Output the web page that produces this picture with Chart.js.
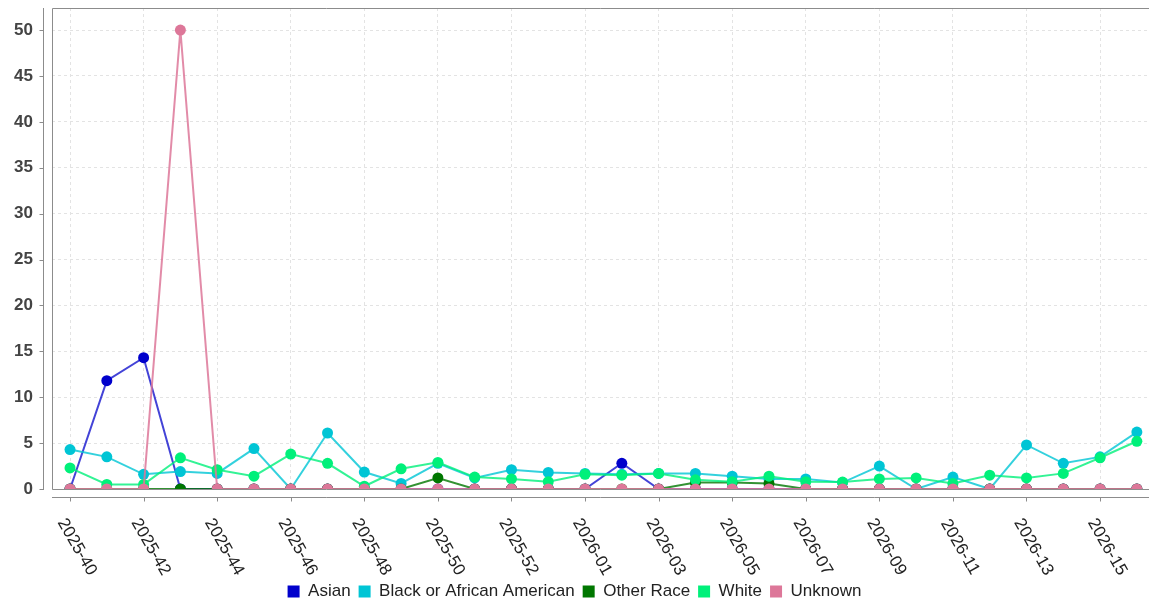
<!DOCTYPE html>
<html>
<head>
<meta charset="utf-8">
<title>Cases by race</title>
<script src="https://cdn.jsdelivr.net/npm/chart.js@4.4.1/dist/chart.umd.min.js"></script>
<style>
  html, body { margin: 0; padding: 0; background: #fff; }
</style>
</head>
<body>
<canvas id="raceChart" width="1149" height="602"></canvas>
<script>
// week labels, 2025-40 .. 2026-16
const weeks = [
  '2025-40', '2025-41', '2025-42', '2025-43', '2025-44', '2025-45', '2025-46', '2025-47',
  '2025-48', '2025-49', '2025-50', '2025-51', '2025-52', '2025-53',
  '2026-01', '2026-02', '2026-03', '2026-04', '2026-05', '2026-06', '2026-07', '2026-08',
  '2026-09', '2026-10', '2026-11', '2026-12', '2026-13', '2026-14', '2026-15', '2026-16'
];

const asian = [0, 11.8, 14.3, 0, 0, 0, 0, 0, 0, 0, 0, 0, 0, 0,
  0, 2.8, 0, 0, 0, 0, 0, 0, 0, 0, 0, 0, 0, 0, 0, 0];
const black = [4.3, 3.5, 1.6, 1.9, 1.7, 4.4, 0, 6.1, 1.85, 0.6, 2.8, 1.2, 2.1, 1.8,
  1.7, 1.6, 1.7, 1.7, 1.4, 1.1, 1.1, 0.7, 2.5, 0, 1.3, 0, 4.8, 2.8, 3.5, 6.2];
const otherRace = [0, 0, 0, 0, 0, 0, 0, 0, 0, 0, 1.2, 0, 0, 0,
  0, 0, 0, 0.7, 0.7, 0.6, 0, 0, 0, 0, 0, 0, 0, 0, 0, 0];
const white = [2.3, 0.5, 0.5, 3.4, 2.1, 1.4, 3.8, 2.8, 0.3, 2.2, 2.9, 1.3, 1.1, 0.8,
  1.6, 1.5, 1.7, 1.0, 0.8, 1.4, 0.8, 0.75, 1.1, 1.2, 0.6, 1.5, 1.2, 1.7, 3.4, 5.2];
const unknown = [0, 0, 0, 50, 0, 0, 0, 0, 0, 0, 0, 0, 0, 0,
  0, 0, 0, 0, 0, 0, 0, 0, 0, 0, 0, 0, 0, 0, 0, 0];

const yTicks = [0, 5, 10, 15, 20, 25, 30, 35, 40, 45, 50];
const xTickIdx = weeks.map((w, i) => i).filter(i => i % 2 === 0);

const FONT = "'Liberation Sans', Arial, Helvetica, sans-serif";

function pts(arr) {
  return arr.map((v, i) => ({ x: i, y: v }));
}

function series(label, arr, point, line, order) {
  return {
    label: label,
    data: pts(arr),
    borderColor: line,
    backgroundColor: point,
    pointBackgroundColor: point,
    pointBorderWidth: 0,
    pointRadius: 5.5,
    pointHoverRadius: 6.5,
    borderWidth: 2,
    fill: false,
    tension: 0,
    order: order
  };
}

// frame, offset axes and rotated week labels (JFreeChart look)
const axisFrame = {
  id: 'axisFrame',
  beforeDatasetsDraw(chart) {
    const { ctx, chartArea: a } = chart;
    ctx.save();
    ctx.strokeStyle = '#8c8c8c';
    ctx.lineWidth = 1;
    ctx.beginPath();
    ctx.moveTo(a.right, a.top + 0.5);
    ctx.lineTo(a.left + 0.5, a.top + 0.5);
    ctx.lineTo(a.left + 0.5, a.bottom + 0.5);
    ctx.lineTo(a.right, a.bottom + 0.5);
    ctx.stroke();
    ctx.restore();
  },
  afterDraw(chart) {
    const { ctx, chartArea: a, scales: { x, y } } = chart;
    ctx.save();
    ctx.strokeStyle = '#8c8c8c';
    ctx.lineWidth = 1;
    // y axis
    ctx.beginPath();
    ctx.moveTo(a.left - 8.5, a.top);
    ctx.lineTo(a.left - 8.5, a.bottom + 1);
    yTicks.forEach(v => {
      const py = Math.round(y.getPixelForValue(v)) + 0.5;
      ctx.moveTo(a.left - 12.5, py);
      ctx.lineTo(a.left - 8.5, py);
    });
    // x axis
    const ay = a.bottom + 8.5;
    ctx.moveTo(a.left, ay);
    ctx.lineTo(a.right, ay);
    xTickIdx.forEach(i => {
      const px = Math.round(x.getPixelForValue(i)) + 0.5;
      ctx.moveTo(px, ay);
      ctx.lineTo(px, ay + 4);
    });
    ctx.stroke();

    ctx.fillStyle = '#222';
    ctx.font = '17px ' + FONT;
    ctx.textAlign = 'center';
    ctx.textBaseline = 'middle';
    xTickIdx.forEach(i => {
      const px = x.getPixelForValue(i);
      ctx.save();
      ctx.translate(px + 7, a.bottom + 58);
      ctx.rotate(Math.PI / 3);
      ctx.fillText(weeks[i], 0, 0);
      ctx.restore();
    });
    ctx.restore();
  }
};

const ctx = document.getElementById('raceChart').getContext('2d');
const raceChart = new Chart(ctx, {
  type: 'line',
  data: {
    datasets: [
      series('Asian', asian, '#0000CC', 'rgba(20,20,205,0.8)', 4),
      series('Black or African American', black, '#00C5D5', 'rgba(0,197,213,0.8)', 3),
      series('Other Race', otherRace, '#007700', 'rgba(0,119,0,0.8)', 2),
      series('White', white, '#00F07A', 'rgba(0,240,122,0.8)', 1),
      series('Unknown', unknown, '#DD7799', 'rgba(221,119,153,0.85)', 0)
    ]
  },
  options: {
    responsive: false,
    animation: false,
    layout: {
      autoPadding: false,
      padding: { top: 8, right: 0, left: 0, bottom: -8 }
    },
    plugins: {
      legend: {
        position: 'bottom',
        labels: {
          boxWidth: 12,
          boxHeight: 12,
          padding: 8,
          color: '#222',
          font: { family: FONT, size: 17 },
          generateLabels(chart) {
            const items = Chart.defaults.plugins.legend.labels.generateLabels(chart);
            items.forEach(it => { it.lineWidth = 0; it.strokeStyle = it.fillStyle; });
            return items.sort((p, q) => p.datasetIndex - q.datasetIndex);
          }
        }
      },
      tooltip: {
        mode: 'index',
        intersect: false
      }
    },
    scales: {
      x: {
        type: 'linear',
        min: -0.49,
        max: 29.33,
        afterBuildTicks(scale) {
          scale.ticks = xTickIdx.map(i => ({ value: i }));
        },
        afterFit(scale) {
          scale.height = 86;
          scale.paddingLeft = 0;
          scale.paddingRight = 0;
        },
        ticks: { display: false },
        grid: { color: '#e3e3e3', drawTicks: false },
        border: { display: false, dash: [3, 3] }
      },
      y: {
        min: 0,
        max: 52.4,
        afterBuildTicks(scale) {
          scale.ticks = yTicks.map(v => ({ value: v }));
        },
        afterFit(scale) {
          scale.width = 52;
          scale.paddingTop = 0;
          scale.paddingBottom = 0;
        },
        ticks: {
          padding: 19,
          color: '#444',
          font: { family: FONT, size: 17, weight: 'bold' }
        },
        grid: { color: '#e3e3e3', drawTicks: false },
        border: { display: false, dash: [3, 3] }
      }
    }
  },
  plugins: [axisFrame]
});
</script>
</body>
</html>
